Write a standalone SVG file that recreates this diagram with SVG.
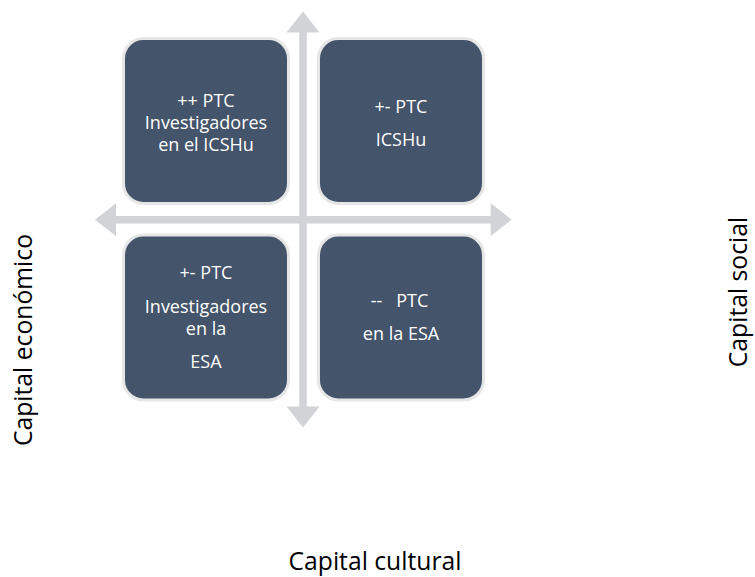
<svg xmlns="http://www.w3.org/2000/svg" width="755" height="577" viewBox="0 0 755 577">
<style>
.box{fill:#44546a;stroke:#e6e6e6;stroke-width:3}
.bt{font-family:"Open Sans","Noto Sans","Liberation Sans",sans-serif;font-size:18px;fill:#ffffff;text-anchor:middle;white-space:pre}
.ax{font-family:"Open Sans","Noto Sans","Liberation Sans",sans-serif;font-size:24.7px;fill:#000000;text-anchor:middle}
.arr{fill:#d1d3d7}
</style>
<rect width="755" height="577" fill="#ffffff"/>
<g id="connectors">
<polygon class="arr" points="303,11.5 319.5,32.5 306.75,32.5 306.75,406.5 319.5,406.5 303,427.5 286.5,406.5 299.25,406.5 299.25,32.5 286.5,32.5"/>
<polygon class="arr" points="95,219.7 116,203.3 116,215.95 490.7,215.95 490.7,203.3 511.7,219.7 490.7,236 490.7,223.45 116,223.45 116,236"/>
</g>
<g id="node-tl">
<rect class="box" x="123.5" y="38.5" width="165" height="165" rx="20"/>
<text class="bt" x="206" y="106.5">++ PTC</text>
<text class="bt" x="206" y="128.5">Investigadores</text>
<text class="bt" x="206" y="151">en el ICSHu</text>
</g>
<g id="node-tr">
<rect class="box" x="318.5" y="38.5" width="165" height="165" rx="20"/>
<text class="bt" x="401" y="112.7">+- PTC</text>
<text class="bt" x="401" y="145.7">ICSHu</text>
</g>
<g id="node-bl">
<rect class="box" x="123.5" y="235" width="165" height="165" rx="20"/>
<text class="bt" x="206" y="279.3">+- PTC</text>
<text class="bt" x="206" y="312.7">Investigadores</text>
<text class="bt" x="206" y="335">en la</text>
<text class="bt" x="206" y="368.3">ESA</text>
</g>
<g id="node-br">
<rect class="box" x="318.5" y="235" width="165" height="165" rx="20"/>
<text class="bt" x="399.5" y="307.3">--   PTC</text>
<text class="bt" x="401" y="340">en la ESA</text>
</g>
<g id="labels">
<text class="ax" x="375" y="569.5">Capital cultural</text>
<text class="ax" transform="translate(31.7,340) rotate(-90)">Capital económico</text>
<text class="ax" transform="translate(746.5,292) rotate(-90)">Capital social</text>
</g>
</svg>
